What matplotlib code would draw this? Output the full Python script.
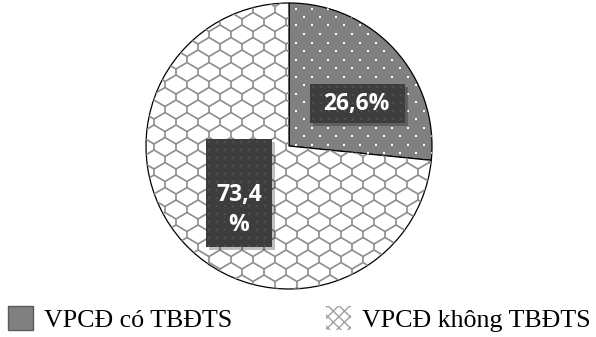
import numpy as np
import matplotlib.pyplot as plt
from matplotlib.patches import Rectangle, Patch
from matplotlib.collections import LineCollection

categories = ["VPCĐ có TBĐTS", "VPCĐ không TBĐTS"]
shares = [26.6, 73.4]
value_labels = ["26,6%", "73,4\n%"]

W, H = 596, 337
CX, CY, R = 289, 146, 143          # pie centre / radius in pixels (y from top)


def px(x, y):
    """pixel (from top-left) -> data units"""
    return (x - CX) / R, (CY - y) / R


fig = plt.figure(figsize=(W / 100, H / 100), dpi=100)
ax = fig.add_axes([0, 0, 1, 1])

wedges, _ = ax.pie(shares, startangle=90, counterclock=False, radius=1,
                   colors=["#808080", "white"],
                   wedgeprops=dict(edgecolor="black", linewidth=0.9))
ax.set_aspect("auto")
ax.set_xlim(-CX / R, (W - CX) / R)
ax.set_ylim(-(H - CY) / R, CY / R)
ax.set_axis_off()

# white dot texture on the small slice
xs, ys = [], []
for j, y in enumerate(np.arange(0, H, 8.5)):
    off = 8 if j % 2 else 0
    for x in np.arange(off, W, 16):
        xs.append(x)
        ys.append(y)
dx, dy = px(np.array(xs), np.array(ys))
dots = ax.scatter(dx, dy, s=3.5, marker="s", color="white", lw=0, zorder=3)
dots.set_clip_path(wedges[0])

# flattened honeycomb texture on the big slice
segs = []
hw, d, v = 11, 6.5, 6
nx = int(W / hw) + 4
for k in range(-2, int(H / (d + v)) + 3):
    y0 = k * (d + v)
    xs_row = np.arange(-2, nx) * hw
    ys_row = y0 + np.where((np.arange(-2, nx) + k) % 2, d, 0)
    segs.append(np.column_stack(px(xs_row, ys_row)))
    for xv, yv in zip(xs_row, ys_row):
        if yv > y0:
            segs.append(np.column_stack(px(np.array([xv, xv]), np.array([yv, yv + v]))))
zz = LineCollection(segs, colors="#8c8c8c", linewidths=1.2, zorder=3)
ax.add_collection(zz)
zz.set_clip_path(wedges[1])

# value boxes
box_px = [(310, 84, 95, 39), (206, 139, 66, 108)]
text_px = [(356, 104), (239, 210)]
for lab, (bx, by, bw, bh), (tx, ty) in zip(value_labels, box_px, text_px):
    x0, y1 = px(bx, by)
    x1, y0 = px(bx + bw, by + bh)
    sx, sy = 2.5 / R, -2.5 / R
    ax.add_patch(Rectangle((x0 + sx, y0 + sy), x1 - x0, y1 - y0,
                           facecolor="black", alpha=0.25, lw=0, zorder=4))
    rect = Rectangle((x0, y0), x1 - x0, y1 - y0, facecolor="#3d3d3d",
                     lw=0, zorder=5)
    ax.add_patch(rect)
    gx, gy = np.meshgrid(np.arange(bx + 3, bx + bw, 8), np.arange(by + 3, by + bh, 8))
    gdx, gdy = px(gx.ravel(), gy.ravel())
    bd = ax.scatter(gdx, gdy, s=3, marker="s", color="#4d4d4d", lw=0, zorder=6)
    bd.set_clip_path(rect)
    ax.text(*px(tx, ty), lab, ha="center", va="center", color="white",
            fontsize=16.5, fontweight="bold", family="Open Sans",
            linespacing=1.3, zorder=7)

handles = [Patch(facecolor="#808080", edgecolor="#5a5a5a", linewidth=1),
           Patch(facecolor="white", edgecolor="#a0a0a0", hatch="xxx", linewidth=0)]
fig.legend(handles, categories, loc="lower left", bbox_to_anchor=(8 / W, 5 / H),
           ncol=2, frameon=False, borderpad=0, borderaxespad=0,
           handlelength=0.95, handleheight=1.0, handletextpad=0.45,
           columnspacing=3.6,
           prop=dict(family="Liberation Serif", size=18.7))

fig.savefig("out.png", dpi=100)
